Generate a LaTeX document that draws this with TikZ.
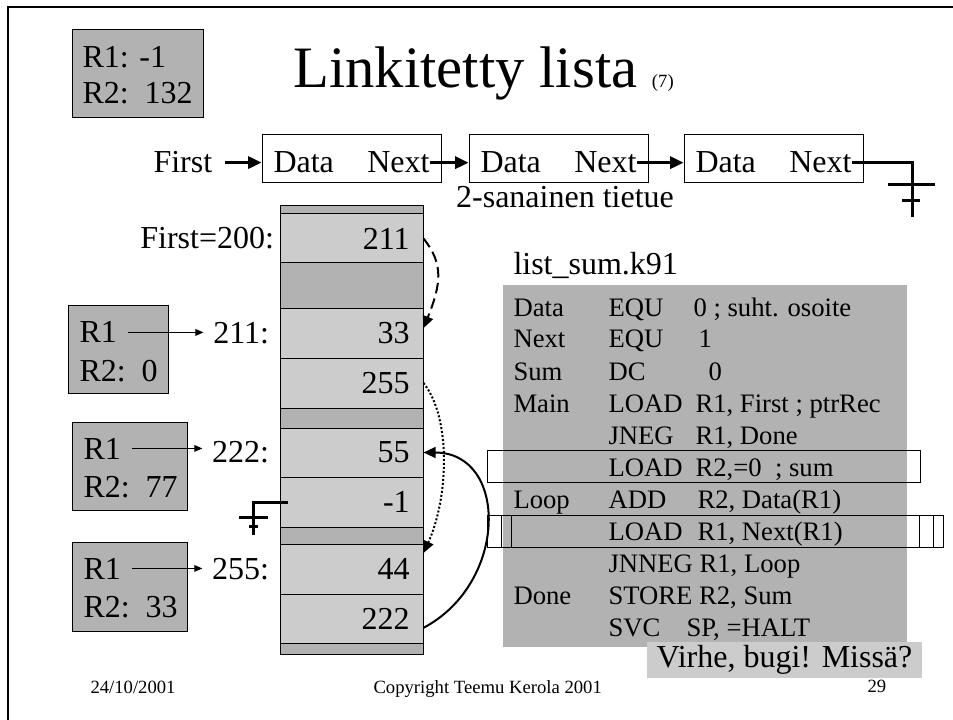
\documentclass[tikz,border=0pt]{standalone}
\usepackage{fontspec}
\setmainfont{Liberation Serif}
\usetikzlibrary{arrows.meta, positioning, fit}
\definecolor{cdark}{HTML}{B2B2B2}
\definecolor{clight}{HTML}{CCCCCC}
\tikzset{
  every picture/.style={line width=0.75pt},
  big/.style={font=\fontsize{24}{28}\selectfont, inner sep=0pt},
  code/.style={font=\fontsize{20}{24}\selectfont, anchor=base west, inner sep=0pt},
  foot/.style={font=\fontsize{14}{16}\selectfont, anchor=base west, inner sep=0pt},
  regbox/.style={draw, fill=cdark, inner sep=0pt},
  cellbox/.style={draw, fill=#1, inner sep=0pt},
  cellbox/.default=clight,
  listbox/.style={draw, inner sep=0pt},
  ptr/.style={-{Triangle[length=10pt, width=9pt]}, line width=2.25pt},
  regptr/.style={-{Triangle[length=6pt, width=5pt]}, line width=0.75pt},
  memptr/.style={-{Triangle[length=9pt, width=8pt]}, line width=1.5pt},
  nilsign/.style={line width=2.25pt},
}

\begin{document}
\begin{tikzpicture}[x=0.75pt, y=-0.75pt]
  \useasboundingbox (0,0) rectangle (953,720);
  % slide frame
  \draw[line width=2pt] (8,720) -- (8,7) -- (953,7);

  % title and final registers
  \node[anchor=base west, inner sep=0pt, font=\fontsize{44}{50}\selectfont] (title) at (293,88)
    {Linkitetty lista \fontsize{14}{16}\selectfont(7)};
  \node[regbox, fit={(72,30) (203,118)}] (reg1) {};
  \node[big, anchor=base west] (reg1-r1) at (82,68) {R1: -1};
  \node[big, anchor=base west] (reg1-r2) at (82,104) {R2:~~132};

  % the linked list
  \node[big, anchor=base west] (first) at (153,173) {First};
  \foreach \xa/\xb [count=\i] in {262/441, 469/648, 684/863} {
    \node[listbox, fit={(\xa,135) (\xb,183)}] (rec\i) {};
    \node[big, anchor=base west] (dat\i) at (\xa+11,173) {Data};
    \node[big, anchor=base east] (nxt\i) at (\xb-11,173) {Next};
  }
  \draw[ptr] ([xshift=9pt]first.east) -- (rec1.west |- first.east);
  \draw[ptr] (nxt1.east) -- (rec2.west |- nxt1.east);
  \draw[ptr] (nxt2.east) -- (rec3.west |- nxt2.east);
  \coordinate (nil1) at (912,217);
  \draw[nilsign] (nxt3.east) -| (nil1);
  \draw[nilsign] (888,185) -- (935,185) (902,201) -- (920,201);
  \node[big, anchor=base] (words) at (565,208) {2-sanainen tietue};

  % memory
  \foreach \nm/\ya/\yb/\col in {mtop/206/214/cdark, c211/214/263/clight, mgap/263/309/cdark,
      c33/309/358/clight, c255/358/408/clight, ms1/408/428/cdark, c55/428/477/clight,
      cm1/477/527/clight, ms2/527/544/cdark, c44/544/594/clight, c222/594/643/clight,
      ms3/643/654/cdark}
    \node[cellbox=\col, fit={(280,\ya) (423,\yb)}] (\nm) {};
  \foreach \nm/\v in {c211/211, c33/33, c255/255, c55/55, cm1/-1, c44/44, c222/222}
    \node[big, anchor=east] at ([xshift=-10pt]\nm.east) {\v};
  \node[big, anchor=east] (afirst) at ([xshift=-3.75pt]c211.west) {First=200:};
  \node[big, anchor=east] (a211) at ([xshift=-7.5pt]c33.west) {211:};
  \node[big, anchor=east] (a222) at ([xshift=-7.5pt]c55.west) {222:};
  \node[big, anchor=east] (a255) at ([xshift=-7.5pt]c44.west) {255:};
  \coordinate (nil2) at (253,535);
  \draw[nilsign] ([xshift=6pt]cm1.west) -| (nil2);
  \draw[nilsign] (239,517) -- (268,517) (249,526) -- (258,526);

  \draw[memptr, dash pattern=on 8pt off 4pt] (c211.east) .. controls +(20,25) and +(18,-45) .. ([yshift=4pt]c33.east);
  \draw[memptr, dash pattern=on 1.5pt off 1.5pt] (c255.east) .. controls +(28,35) and +(25,-55) .. ([yshift=12pt]c44.east);
  \draw[memptr] ([yshift=-7pt]c222.east) .. controls +(85,-45) and +(85,0) .. (c55.east);

  % registers at each step
  \foreach \nm/\xa/\ya/\xb/\yb/\rr/\tgt in {reg2/68/306/168/393/0/a211,
      reg3/72/422/187/510/77/a222, reg4/72/542/187/631/33/a255} {
    \node[regbox, fit={(\xa,\ya) (\xb,\yb)}] (\nm) {};
    \node[big, anchor=base west] (\nm-r1) at (\xa+11,\ya+37) {R1};
    \node[big, anchor=base west] (\nm-r2) at (\xa+11,\ya+75) {R2:~~\rr};
    \draw[regptr, shorten <=8pt, shorten >=7pt] (\nm-r1.east) -- (\tgt.west |- \nm-r1.east);
  }

  % program
  \node[fill=cdark, inner sep=0pt, fit={(503,285) (907,647)}] (code) {};
  \node[big, anchor=base west] (fname) at (513,275) {list\_sum.k91};
  \foreach \lab/\op/\arg/\ax [count=\i] in {Data/EQU/{0 ; suht. osoite}/693, Next/EQU/1/698,
      Sum/DC/0/708, Main/LOAD/{R1, First ; ptrRec}/695, {}/JNEG/{R1, Done}/695,
      {}/LOAD/{R2,=0~~; sum}/695, Loop/ADD/{R2, Data(R1)}/697, {}/LOAD/{R1, Next(R1)}/697,
      {}/{JNNEG R1, Loop}/{}/680, Done/{STORE R2, Sum}/{}/680, {}/SVC/{SP, =HALT}/686} {
    \pgfmathsetmacro\yb{316+32*(\i-1)}
    \node[code] (lab\i) at (513,\yb) {\lab};
    \node[code] (op\i) at (608,\yb) {\op};
    \node[code] (arg\i) at (\ax,\yb) {\arg};
  }
  \node[draw, inner sep=0pt, fit={(487,450) (920,482)}] (mark1) {};
  \foreach \xa/\xb [count=\k] in {487/933, 501/943, 511/919}
    \node[draw, inner sep=0pt, fit={(\xa,515) (\xb,547)}] (mark2\k) {};
  \node[fill=clight, big, inner sep=0pt, fit={(647,642) (922,678)}] (bug) {};
  \node[big] at (bug.center) {Virhe, bugi! Missä?};

  % footer
  \node[foot] (date) at (90,693) {24/10/2001};
  \node[foot] (copy) at (373,693) {Copyright Teemu Kerola 2001};
  \node[foot] (page) at (867,692) {29};
\end{tikzpicture}
\end{document}
